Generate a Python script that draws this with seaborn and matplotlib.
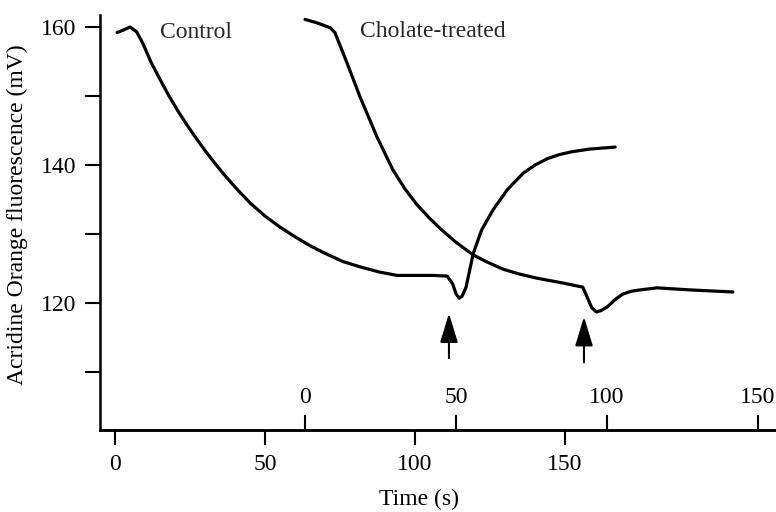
import matplotlib
matplotlib.use("Agg")
import matplotlib.pyplot as plt
import pandas as pd
import seaborn as sns

# Control trace (time in s on the lower scale)
control_t = [0.7, 3, 5, 7.2, 9.3, 12, 15, 18, 21, 24, 27, 30, 33, 36, 40, 45, 50, 55, 60,
             65, 70, 76, 82, 88, 94, 100, 106, 110.7, 112.5, 113.7, 114.7, 115.7, 117.0,
             119.4, 122.2, 126, 130.7, 136, 140, 144, 148, 152, 158, 166.7]
control_v = [159.2, 159.6, 160.0, 159.3, 157.6, 154.9, 152.4, 150.0, 147.8, 145.8, 143.9,
             142.1, 140.4, 138.8, 136.8, 134.5, 132.6, 131.0, 129.6, 128.3, 127.2, 126.0,
             125.2, 124.5, 124.0, 124.0, 124.0, 123.9, 122.8, 121.3, 120.7, 121.0, 122.3,
             127.2, 130.6, 133.5, 136.4, 138.8, 140.0, 140.9, 141.5, 141.9, 142.3, 142.6]

# Cholate-treated trace (time in s on the upper scale)
cholate_t = [0, 4, 8.3, 9.9, 13.9, 18.2, 23.8, 29.1, 33, 37, 41, 45, 50, 55.6, 60, 65.6,
             71, 76.8, 85.4, 92, 93.4, 95, 96.5, 98, 100, 103, 105.3, 108, 111, 116.6,
             127.5, 141.7]
cholate_v = [161.1, 160.6, 159.9, 159.2, 154.8, 149.9, 144.1, 139.3, 136.6, 134.3, 132.4,
             130.7, 128.8, 127.0, 126.0, 124.9, 124.2, 123.6, 122.9, 122.3, 120.9, 119.3,
             118.7, 118.9, 119.4, 120.6, 121.3, 121.7, 121.9, 122.2, 121.9, 121.6]

# arrows: (time, tail, tip)
arrow_control = (111.3, 112.0, 118.5)
arrow_cholate = (92.4, 111.4, 118.0)

sns.set_theme(style="ticks")
plt.rcParams["font.family"] = ["Liberation Serif", "DejaVu Serif"]

fig = plt.figure(figsize=(7.76, 5.12), dpi=100)
ax = fig.add_axes([0.1289, 0.1602, 0.8711, 0.8105])
ax2 = ax.twiny()

df_c = pd.DataFrame({"t": control_t, "v": control_v})
df_h = pd.DataFrame({"t": cholate_t, "v": cholate_v})
sns.lineplot(data=df_c, x="t", y="v", ax=ax, color="black", lw=2.3)
sns.lineplot(data=df_h, x="t", y="v", ax=ax2, color="black", lw=2.3)

ax.set_xlim(-5, 220.3)
ax2.set_xlim(-67.9, 156.0)
ax.set_ylim(101.6, 161.74)

ax.set_xticks([0, 50, 100, 150])
ax.set_yticks([110, 120, 130, 140, 150, 160])
ax.set_yticklabels(["", "120", "", "140", "", "160"])
ax.tick_params(axis="both", direction="out", length=11, width=1.5, labelsize=17,
               color="black", labelcolor="black", pad=6)

for s in ["top", "right"]:
    ax.spines[s].set_visible(False)
for s in ["left", "bottom"]:
    ax.spines[s].set_linewidth(1.8)
    ax.spines[s].set_color("black")

# upper time scale sits on the bottom spine, ticks pointing up
for s in ["left", "right", "bottom"]:
    ax2.spines[s].set_visible(False)
ax2.spines["top"].set_position(("axes", 0.0))
ax2.spines["top"].set_linewidth(1.8)
ax2.spines["top"].set_color("black")
ax2.set_xticks([0, 50, 100, 150])
ax2.tick_params(axis="x", direction="out", length=11, width=1.5, labelsize=17,
                color="black", labelcolor="black", pad=5)
ax2.set_xlabel("")
ax2.set_ylabel("")

ax.set_xlabel("Time (s)", fontsize=17, color="black")
ax.xaxis.set_label_coords(0.472, -0.142)
ax.set_ylabel("Acridine Orange fluorescence (mV)", fontsize=17, color="black")
ax.yaxis.set_label_coords(-0.1065, 0.518)

ax.text(15, 158.4, "Control", fontsize=17, va="baseline", ha="left")
ax.text(81.7, 158.6, "Cholate-treated", fontsize=17, va="baseline", ha="left")

props = dict(arrowstyle="-|>,head_length=1.8,head_width=0.55", mutation_scale=10,
             color="black", lw=1.5, shrinkA=0, shrinkB=0)
t, tail, tip = arrow_control
ax.annotate("", xy=(t, tip), xytext=(t, tail), arrowprops=props)
t, tail, tip = arrow_cholate
ax2.annotate("", xy=(t, tip), xytext=(t, tail), arrowprops=props)

fig.savefig("out.png", dpi=100)
